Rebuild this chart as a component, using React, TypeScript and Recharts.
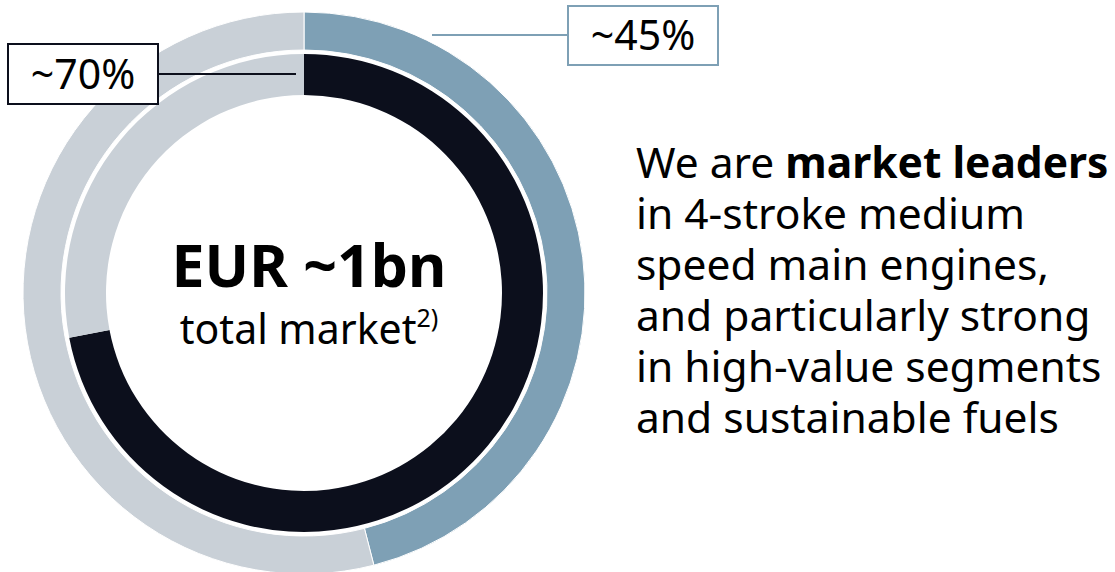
import React from "react"
import { PieChart, Pie, Cell } from "recharts"

// ring segments, read clockwise from 12 o'clock
const segments = ["Share", "Rest"]
const outerValues = [46, 54] // labelled ~45%
const innerValues = [72, 28] // labelled ~70%
const outerLabel = "~45%"
const innerLabel = "~70%"

const outerData = segments.map((name, i) => ({ name, value: outerValues[i] }))
const innerData = segments.map((name, i) => ({ name, value: innerValues[i] }))

// side statement, one entry per line; bold part marked separately
const statementLines = [
  "in 4-stroke medium",
  "speed main engines,",
  "and particularly strong",
  "in high-value segments",
  "and sustainable fuels",
]

const BLUE = "#7ea0b5"
const GREY = "#c9d0d7"
const DARK = "#0c0f1c"
const FONT = "'Noto Sans', 'Open Sans', sans-serif"
const CX = 304
const CY = 293

export default function App() {
  return (
    <div style={{ position: "absolute", left: 0, top: 0, width: 1115, height: 572, background: "#fff" }}>
      <PieChart width={1115} height={572} margin={{ top: 0, right: 0, bottom: 0, left: 0 }}>
        <Pie
          data={outerData}
          dataKey="value"
          cx={CX}
          cy={CY}
          innerRadius={243}
          outerRadius={281}
          startAngle={90}
          endAngle={-270}
          stroke="#fff"
          strokeWidth={1}
          isAnimationActive={false}
        >
          {outerData.map((d, i) => (
            <Cell key={d.name} fill={i === 0 ? BLUE : GREY} />
          ))}
        </Pie>
        <Pie
          data={innerData}
          dataKey="value"
          cx={CX}
          cy={CY}
          innerRadius={198}
          outerRadius={239}
          startAngle={90}
          endAngle={-270}
          stroke="none"
          isAnimationActive={false}
        >
          {innerData.map((d, i) => (
            <Cell key={d.name} fill={i === 0 ? DARK : GREY} />
          ))}
        </Pie>
      </PieChart>

      {/* centre text, callout boxes and side statement */}
      <svg width={1115} height={572} style={{ position: "absolute", left: 0, top: 0, pointerEvents: "none" }}>
        <g fontFamily={FONT} fill="#000" textAnchor="middle">
          <text x={CX + 5} y={287} fontSize={59} fontWeight={700}>
            EUR ~1bn
          </text>
          <text x={CX + 5} y={344} fontSize={41}>
            total market
            <tspan fontSize={25} dy={-17}>2)</tspan>
          </text>
        </g>

        <line x1={158} y1={74} x2={296} y2={74} stroke={DARK} strokeWidth={2} />
        <rect x={8} y={44} width={150} height={60} fill="#fff" stroke={DARK} strokeWidth={2} />
        <text x={83} y={89} textAnchor="middle" fontFamily={FONT} fontSize={41} fill="#000">
          {innerLabel}
        </text>

        <line x1={432} y1={35} x2={568} y2={35} stroke={BLUE} strokeWidth={2} />
        <rect x={568} y={6} width={150} height={59} fill="#fff" stroke={BLUE} strokeWidth={2} />
        <text x={643} y={50} textAnchor="middle" fontFamily={FONT} fontSize={41} fill="#000">
          {outerLabel}
        </text>

        <g fontFamily={FONT} fontSize={42.5} fill="#000">
          <text x={636} y={178}>
            We are <tspan fontWeight={700}>market leaders</tspan>
          </text>
          {statementLines.map((line, i) => (
            <text key={line} x={636} y={178 + (i + 1) * 51}>
              {line}
            </text>
          ))}
        </g>
      </svg>
    </div>
  )
}
